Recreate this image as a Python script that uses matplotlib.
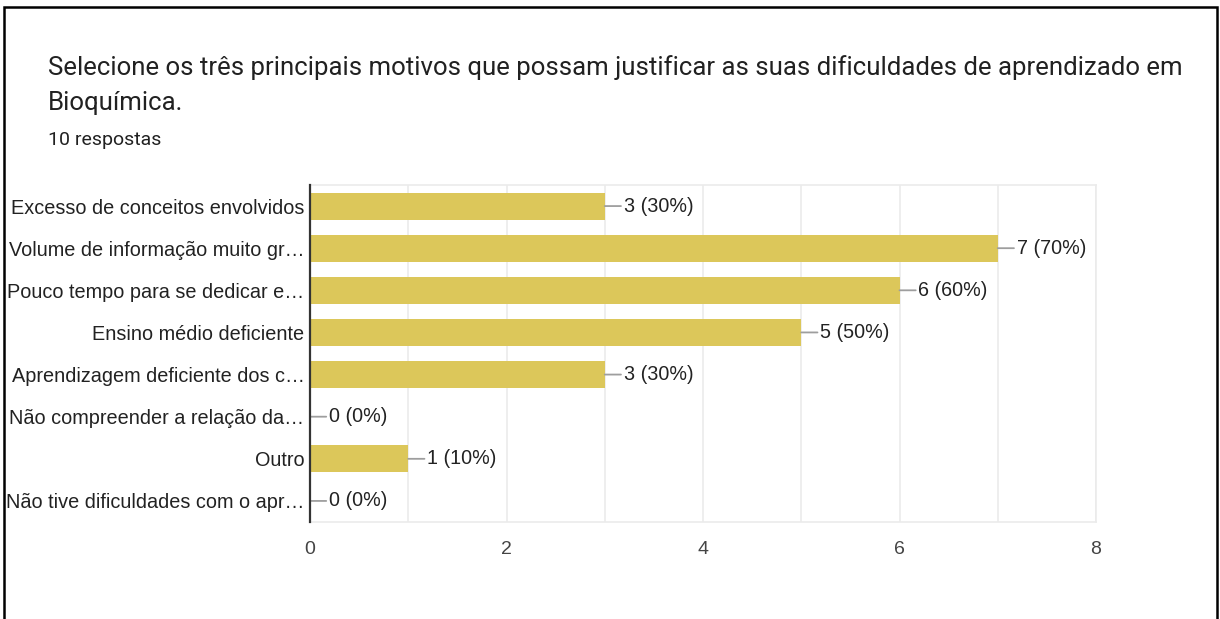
import matplotlib
matplotlib.use("Agg")
from matplotlib import pyplot as plt
from matplotlib.patches import Rectangle

# data
categories = [
    "Excesso de conceitos envolvidos",
    "Volume de informação muito gr…",
    "Pouco tempo para se dedicar e…",
    "Ensino médio deficiente",
    "Aprendizagem deficiente dos c…",
    "Não compreender a relação da…",
    "Outro",
    "Não tive dificuldades com o apr…",
]
counts = [3, 7, 6, 5, 3, 0, 1, 0]
total = 10
x_ticks = [0, 2, 4, 6, 8]

W, H = 1220, 619
fig = plt.figure(figsize=(W / 100, H / 100), dpi=100)

# frame around the figure (document box)
fig.patches.append(Rectangle((3.5 / W, -0.05), (1216.5 - 3.5) / W, 1.05 - 7 / H,
                             transform=fig.transFigure, fill=False,
                             edgecolor="black", lw=1.8))

# title block
fig.text(48 / W, 1 - 68 / H,
         "Selecione os três principais motivos que possam justificar as suas dificuldades de aprendizado em",
         family="Roboto", fontsize=18.5, color="#212121", va="center", ha="left")
fig.text(48 / W, 1 - 103 / H, "Bioquímica.",
         family="Roboto", fontsize=18.5, color="#212121", va="center", ha="left")
fig.text(48 / W, 1 - 140 / H, "10 respostas",
         family="Roboto", fontsize=14, color="#212121", va="center", ha="left")

left, right, top, bottom = 310, 1096, 185, 522
ax = fig.add_axes([left / W, 1 - bottom / H, (right - left) / W, (bottom - top) / H])

ypos = list(range(len(categories)))
ax.barh(ypos, counts, height=0.64, color="#dcc75a", zorder=2)

for y, c in zip(ypos, counts):
    ax.annotate("%d (%d%%)" % (c, round(100 * c / total)), xy=(c, y),
                xytext=(19, 0), textcoords="offset pixels", va="center", ha="left",
                family="Liberation Sans", fontsize=14.2, color="#222222",
                arrowprops=dict(arrowstyle="-", color="#9e9e9e", lw=1.3,
                                shrinkA=0, shrinkB=0, relpos=(0, 0.5)))

ax.set_xlim(0, 8)
ax.set_ylim(len(categories) - 0.5, -0.5)
ax.set_xticks(x_ticks)
ax.set_xticks(range(0, 9), minor=True)
ax.set_yticks(ypos)
ax.set_yticklabels(categories, family="Liberation Sans", fontsize=14.3, color="#222222")
ax.tick_params(axis="y", length=0, pad=4)
ax.tick_params(axis="x", which="both", length=0, pad=14, labelsize=14,
               labelcolor="#444444")
for lbl in ax.get_xticklabels():
    lbl.set_family("Liberation Sans")

ax.grid(axis="x", which="both", color="#ebebeb", lw=1.2, zorder=0)
ax.set_axisbelow(True)
for s in ["top", "bottom", "right"]:
    ax.spines[s].set_color("#ebebeb")
    ax.spines[s].set_linewidth(1.2)
ax.spines["left"].set_color("#333333")
ax.spines["left"].set_linewidth(1.6)
ax.spines["left"].set_zorder(3)

fig.savefig("out.png", dpi=100)
